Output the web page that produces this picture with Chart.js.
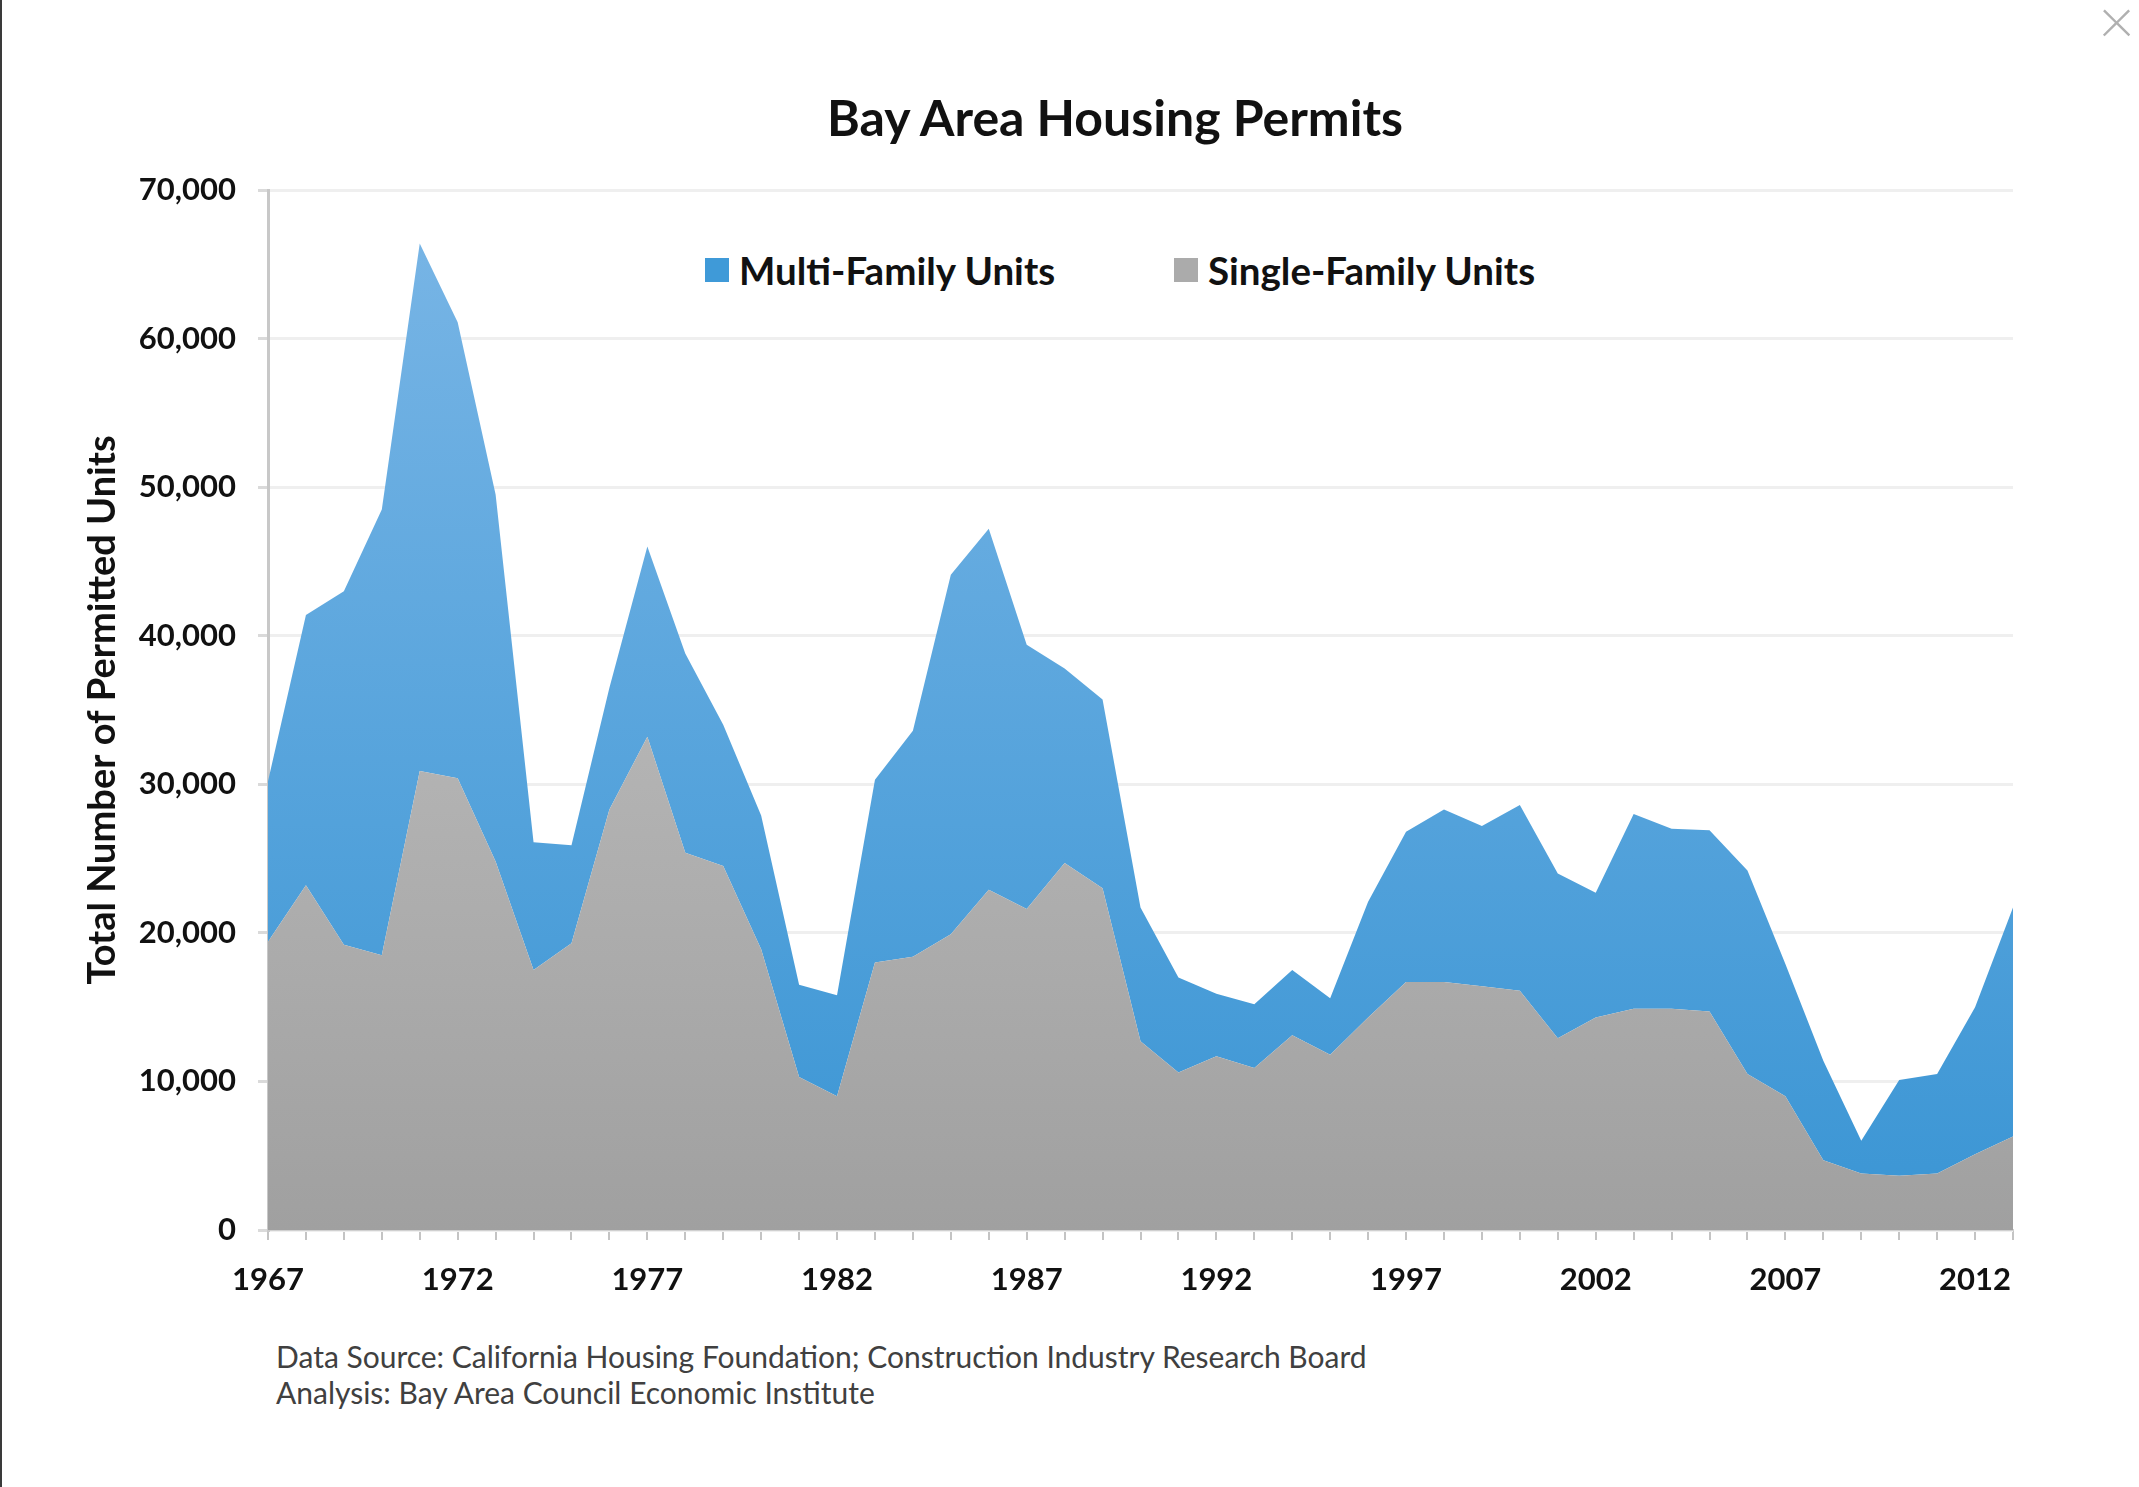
<!DOCTYPE html>
<html>
<head>
<meta charset="utf-8">
<script src="https://cdn.jsdelivr.net/npm/chart.js@4.4.1/dist/chart.umd.min.js"></script>
<style>
  html, body { margin: 0; padding: 0; background: #fff; }
  body { width: 2139px; height: 1487px; position: relative; overflow: hidden; font-family: Lato, "Open Sans", sans-serif; }
  #edge { position: absolute; left: 0; top: 0; width: 2px; height: 1487px; background: #3a3a3a; }
  #close { position: absolute; left: 2098px; top: -12px; font-size: 64px; color: #b0b0b0; font-weight: 300; line-height: 64px; }
  #chartTitle { position: absolute; left: 0; width: 2230px; top: 88px; text-align: center; font-size: 50px; font-weight: 700; color: #111; line-height: 58px; }
  .leg { position: absolute; top: 246px; height: 48px; line-height: 48px; font-size: 38.5px; font-weight: 700; color: #111; white-space: nowrap; }
  .leg span.sw { position: absolute; left: 0; top: 12px; width: 24px; height: 24px; }
  .leg span.tx { position: absolute; left: 34px; top: 0; }
  #notes { position: absolute; left: 276px; top: 1338px; font-size: 30px; line-height: 36px; color: #404040; }
</style>
</head>
<body>
<div id="edge"></div>
<div id="close">×</div>
<div id="chartTitle">Bay Area Housing Permits</div>
<div class="leg" style="left:705px"><span class="sw" style="background:#3f9ad8"></span><span class="tx">Multi-Family Units</span></div>
<div class="leg" style="left:1174px"><span class="sw" style="background:#ababab"></span><span class="tx">Single-Family Units</span></div>
<div id="notes">Data Source: California Housing Foundation; Construction Industry Research Board<br>Analysis: Bay Area Council Economic Institute</div>
<canvas id="areaChart" width="2139" height="1487" style="position:absolute;left:0;top:0"></canvas>
<script>
"use strict";

var years = [];
for (var yr = 1967; yr <= 2013; yr++) { years.push(String(yr)); }

// single-family permits (grey, bottom)
var single_units = [
  19400, 23200, 19200, 18500, 30900, 30400, 24800, 17500, 19300, 28300,
  33200, 25400, 24500, 18900, 10300, 9000, 18000, 18400, 19900, 22900,
  21600, 24700, 23000, 12700, 10600, 11700, 10900, 13100, 11800, 14300,
  16700, 16700, 16400, 16100, 12900, 14300, 14900, 14900, 14700, 10500,
  9000, 4700, 3800, 3650, 3800, 5100, 6300
];

// multi-family permits (blue, stacked on top)
var multi_units = [
  10800, 18200, 23800, 30000, 35500, 30700, 24700, 8600, 6600, 8200,
  12800, 13400, 9500, 9000, 6200, 6800, 12300, 15200, 24200, 24300,
  17800, 13100, 12700, 9000, 6400, 4200, 4300, 4400, 3800, 7800,
  10100, 11600, 10800, 12500, 11100, 8400, 13100, 12100, 12200, 13700,
  8900, 6700, 2200, 6450, 6700, 9900, 15400
];

var y_max = 70000;
var y_step = 10000;

function vGrad(ctx, area, top, bottom) {
  var g = ctx.createLinearGradient(0, area.top, 0, area.bottom);
  g.addColorStop(0, top);
  g.addColorStop(1, bottom);
  return g;
}

var ctx = document.getElementById("areaChart");
var myChart = new Chart(ctx, {
  type: 'line',
  data: {
    labels: years,
    datasets: [
      {
        label: 'Single-Family Units',
        data: single_units,
        fill: 'origin',
        borderWidth: 0,
        pointRadius: 0,
        tension: 0,
        backgroundColor: function (c) {
          var a = c.chart.chartArea;
          if (!a) return '#ababab';
          return vGrad(c.chart.ctx, a, '#cacaca', '#a0a0a0');
        }
      },
      {
        label: 'Multi-Family Units',
        data: multi_units,
        fill: '-1',
        borderWidth: 0,
        pointRadius: 0,
        tension: 0,
        backgroundColor: function (c) {
          var a = c.chart.chartArea;
          if (!a) return '#4fa3de';
          return vGrad(c.chart.ctx, a, '#7ab6e6', '#3a95d4');
        }
      }
    ]
  },
  options: {
    responsive: false,
    animation: false,
    layout: { padding: { top: 190, right: 126, bottom: 0, left: 0 } },
    plugins: {
      legend: { display: false },
      title: { display: false },
      tooltip: { enabled: false }
    },
    scales: {
      x: {
        offset: false,
        grid: { drawOnChartArea: false, tickLength: 10, tickColor: '#c4c4c4', lineWidth: 2 },
        border: { color: '#d0d0d0', width: 2 },
        ticks: {
          autoSkip: false,
          maxRotation: 0,
          padding: 21,
          color: '#111',
          font: { family: 'Lato', size: 31, weight: 'bold' },
          callback: function (v, i) { return i % 5 === 0 ? years[i] : ''; }
        },
        afterFit: function (s) { s.height = 257; }
      },
      y: {
        stacked: true,
        min: 0,
        max: y_max,
        grid: { color: '#efefef', lineWidth: 3, tickLength: 10, tickColor: '#dadada' },
        border: { color: '#c8c8c8', width: 3 },
        ticks: {
          stepSize: y_step,
          padding: 22,
          color: '#111',
          font: { family: 'Lato', size: 31, weight: 'bold' }
        },
        title: {
          display: true,
          text: 'Total Number of Permitted Units',
          color: '#111',
          font: { family: 'Lato', size: 38, weight: 'bold' },
          padding: { top: 80, bottom: 0 }
        },
        afterFit: function (s) { s.width = 268; }
      }
    }
  }
});
</script>
</body>
</html>
